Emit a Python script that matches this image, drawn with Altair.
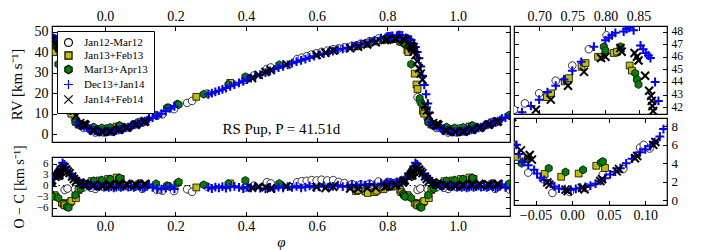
import altair as alt
import pandas as pd

SERIES = ["Jan12-Mar12", "Jan13+Feb13", "Mar13+Apr13", "Dec13+Jan14", "Jan14+Feb14"]

# ---- Jan12-Mar12 (open circles)
a_phase = [0.973, 0.997, 0.020, 0.042, 0.070, 0.093, 0.098, 0.106, 0.148, 0.163, 0.196, 0.233, 0.247,
           0.290, 0.397, 0.422, 0.459, 0.470, 0.545, 0.558, 0.572, 0.586, 0.600, 0.614, 0.630, 0.647,
           0.662, 0.6785, 0.700, 0.725, 0.750, 0.775, 0.8017, 0.886, 0.894, 0.915, 0.940, 0.960]
a_rv = [0.8, 0.9, 1.4, 2.8, 3.4, 5.7, 6.0, 5.6, 9.0, 9.7, 12.2, 15.2, 16.2,
        19.8, 26.5, 28.6, 31.8, 32.5, 36.6, 37.3, 38.0, 38.8, 39.4, 40.1, 40.7, 41.4,
        41.8, 42.3, 43.1, 44.1, 45.3, 46.6, 47.7, 18.0, 15.9, 7.6, 3.0, 2.3]
a_oc = [-0.9, -0.4, 0.1, 0.9, -0.3, 0.4, 0.6, -0.9, -1.2, -1.4, -1.5, -1.0, -1.7,
        -0.3, -0.5, 0.0, 0.9, 0.6, 0.9, 1.2, 1.3, 1.5, 1.4, 1.6, 1.4, 1.5,
        1.0, 0.7, 0.4, 0.3, 0.5, 1.1, 1.0, -1.2, -0.8, -1.0, -0.5, -0.6]

# ---- Jan13+Feb13 (yellow squares)
b_phase = [0.9624, 0.985, 0.009, 0.033, 0.045, 0.259, 0.355, 0.7116, 0.718, 0.7386, 0.745, 0.7641,
           0.770, 0.789, 0.8126, 0.8176, 0.8366, 0.840, 0.857, 0.860, 0.878, 0.883, 0.886, 0.901,
           0.905, 0.918, 0.925]
b_rv = [2.86, 2.55, 2.9, 3.74, 3.5, 18.2, 25.0, 42.8, 43.1, 44.05, 44.3, 45.2,
        45.5, 46.0, 46.3, 46.4, 45.3, 44.9, 40.9, 40.0, 29.5, 24.2, 22.0, 11.4,
        10.0, 6.0, 4.7]
b_oc = [1.2, 1.4, 1.8, 2.2, 1.8, -0.5, 0.6, -1.5, -1.2, -1.6, -2.0, -1.8,
        -1.4, -1.0, -0.3, 0.0, -1.2, -1.8, -2.6, -3.0, -4.7, -5.0, -5.4, -4.6,
        -4.2, -3.4, -1.2]

# ---- Mar13+Apr13 (green hexagons)
c_phase = [0.939, 0.968, 0.991, 0.015, 0.0395, 0.042, 0.145, 0.176, 0.181, 0.205, 0.209, 0.280,
           0.350, 0.398, 0.494, 0.7976, 0.800, 0.8227, 0.845, 0.8476, 0.850, 0.868, 0.892, 0.897,
           0.916, 0.931]
c_rv = [4.5, 3.47, 3.06, 3.3, 4.08, 4.2, 9.2, 12.9, 12.9, 14.7, 14.4, 19.5,
        24.2, 28.0, 33.8, 46.8, 46.5, 46.8, 44.7, 44.2, 43.8, 34.1, 17.4, 15.0,
        6.0, 4.0]
c_oc = [0.8, 1.3, 1.5, 1.8, 2.0, 2.1, 0.5, 0.0, -0.2, 0.6, 1.0, 0.2,
        0.5, 1.4, 0.6, 0.6, 0.4, 0.8, -2.2, -2.7, -3.0, -3.4, -5.8, -6.0,
        -2.6, -0.9]

# ---- Dec13+Jan14 (blue plus)
d_phase = [0.932, 0.940, 0.948, 0.952, 0.957, 0.962, 0.9705, 0.976, 0.982, 0.990, 0.998, 0.005,
           0.011, 0.018, 0.025, 0.032, 0.039, 0.045, 0.052, 0.059, 0.066, 0.074, 0.082, 0.087,
           0.093, 0.100, 0.107, 0.113, 0.120, 0.125, 0.135, 0.148, 0.160, 0.172, 0.185, 0.197,
           0.293, 0.303, 0.313, 0.323, 0.333, 0.343, 0.355, 0.367, 0.380, 0.392, 0.403, 0.414,
           0.426, 0.440, 0.455, 0.468, 0.480, 0.492, 0.505, 0.518, 0.530, 0.543, 0.556, 0.568,
           0.580, 0.593, 0.606, 0.620, 0.633, 0.646, 0.660, 0.674, 0.6875, 0.700, 0.7125, 0.725,
           0.7375, 0.750, 0.7635, 0.7826, 0.800, 0.805, 0.810, 0.815, 0.8276, 0.832, 0.836, 0.8426,
           0.853, 0.857, 0.861, 0.865, 0.868, 0.875, 0.880, 0.885, 0.890, 0.895, 0.900, 0.905,
           0.910, 0.915, 0.920, 0.924, 0.927]
d_rv = [4.15, 3.8, 3.3, 2.9, 2.45, 2.2, 1.8, 1.5, 1.27, 1.2, 1.16, 1.25,
        1.37, 1.45, 1.6, 1.8, 2.1, 2.4, 2.8, 3.1, 3.47, 4.0, 4.5, 4.8,
        5.2, 5.5, 5.86, 6.3, 6.9, 7.7, 8.1, 9.0, 10.0, 11.2, 12.6, 13.6,
        19.4, 20.0, 20.6, 21.2, 21.8, 22.5, 23.3, 24.1, 25.0, 25.8, 26.6, 27.3,
        28.2, 29.0, 30.0, 30.8, 31.6, 32.4, 33.1, 33.8, 34.6, 35.3, 36.0, 36.6,
        37.3, 38.0, 38.6, 39.3, 39.9, 40.5, 41.1, 41.6, 42.1, 42.6, 43.2, 43.7,
        44.2, 44.9, 45.6, 46.8, 47.3, 47.5, 47.7, 47.9, 48.0, 48.2, 48.3, 48.1,
        46.9, 46.6, 46.3, 46.1, 45.9, 44.0, 42.5, 40.0, 37.0, 33.0, 28.5, 24.0,
        19.5, 15.0, 10.5, 6.0, 5.0]
d_oc = [0.6, 0.3, 0.2, 0.0, -0.1, 0.1, 0.0, -0.2, -0.3, -0.1, -0.4, -0.2,
        -0.5, -0.3, -0.6, -0.4, -0.2, -0.5, -0.3, -0.1, -0.4, -0.2, -0.5, -0.3,
        0.0, -0.3, -0.6, -0.4, -0.2, 0.3, -0.5, -0.8, -1.0, -0.6, -0.3, -0.9,
        -0.5, -0.8, -0.4, -0.6, -0.3, -0.7, -0.4, -0.2, -0.5, -0.8, -0.4, -0.6,
        -0.3, -0.7, -0.9, -0.5, -0.8, -0.4, -0.6, -0.3, -0.5, -0.2, -0.6, -0.4,
        -0.1, -0.5, -0.3, 0.0, -0.4, -0.2, 0.1, -0.3, -0.1, 0.2, 0.0, 0.3,
        0.1, 0.4, 0.2, 0.6, 0.8, 0.5, 0.9, 0.6, 1.0, 0.7, 1.2, 0.9,
        2.0, 2.4, 2.8, 3.4, 4.0, 5.2, 6.2, 5.8, 5.0, 4.0, 3.2, 2.8,
        2.4, 2.0, 1.6, 1.2, 0.8]

# ---- Jan14+Feb14 (black x)
e_phase = [0.417, 0.436, 0.455, 0.470, 0.515, 0.600, 0.625, 0.647, 0.695, 0.7176, 0.7435, 0.7676,
           0.7935, 0.800, 0.8227, 0.8246, 0.844, 0.8476, 0.850, 0.860, 0.866, 0.869, 0.870, 0.871,
           0.872, 0.875, 0.880, 0.885, 0.890, 0.895, 0.900, 0.907, 0.912, 0.918, 0.930, 0.939,
           0.942, 0.945, 0.966, 0.969, 0.991, 0.994, 0.0136, 0.017, 0.0386, 0.041, 0.061, 0.064,
           0.086, 0.089, 0.111, 0.114]
e_rv = [27.3, 28.9, 30.3, 31.2, 34.0, 38.6, 39.7, 40.8, 41.8, 42.6, 43.7, 44.8,
        45.9, 46.0, 46.7, 46.4, 46.3, 46.0, 45.7, 44.5, 43.3, 42.9, 42.5, 42.1,
        41.7, 40.5, 38.5, 35.5, 32.0, 29.5, 26.5, 14.0, 11.5, 9.0, 5.4, 4.66,
        4.9, 4.4, 1.94, 1.7, 1.16, 1.0, 1.37, 1.2, 2.1, 2.3, 3.13, 3.4,
        4.56, 4.8, 6.0, 6.3]
e_oc = [-0.6, -0.3, -0.5, -0.8, -0.2, -0.4, -0.7, -0.3, -0.8, -0.9, -0.7, -0.6,
        -0.4, -0.2, 0.0, 0.3, 0.8, 1.2, 1.5, 2.4, 2.7, 3.0, 3.3, 2.8,
        3.6, 4.0, 4.6, 5.1, 4.4, 3.8, 3.4, 2.5, 1.8, 1.2, 0.8, 0.3,
        0.5, 0.2, -0.1, 0.2, 0.1, -0.2, 0.3, 0.0, 0.4, 0.1, 0.5, 0.2,
        0.4, 0.1, 0.3, 0.5]

ANNOT = "RS Pup, P = 41.51d"
ANNOT_PHASE, ANNOT_RV = 0.5, 2.3

# ---------------------------------------------------------------- data frame
frames = []
for name, ph, rv, oc in [(SERIES[0], a_phase, a_rv, a_oc), (SERIES[1], b_phase, b_rv, b_oc),
                         (SERIES[2], c_phase, c_rv, c_oc), (SERIES[3], d_phase, d_rv, d_oc),
                         (SERIES[4], e_phase, e_rv, e_oc)]:
    frames.append(pd.DataFrame({"series": name, "phase": ph, "rv": rv, "oc": oc}))
base = pd.concat(frames, ignore_index=True)
lo = base[base.phase <= 0.16].copy()
lo["phase"] = lo["phase"] + 1
hi = base[base.phase >= 0.84].copy()
hi["phase"] = hi["phase"] - 1
df = pd.concat([base, lo, hi], ignore_index=True)
df["k"] = df["series"].map({s: i for i, s in enumerate(SERIES)})
df = df.sort_values("k", kind="stable")
df_fill = df[df.k < 3]
df_line = df[df.k >= 3]

FONT = "Liberation Serif"
TK = 4.5

CIRCLE = "M0.95,0A0.95,0.95,0,1,1,-0.95,0A0.95,0.95,0,1,1,0.95,0Z"
SQUARE = "M-0.85,-0.85L0.85,-0.85L0.85,0.85L-0.85,0.85Z"
HEXA = "M0,-1L0.866,-0.5L0.866,0.5L0,1L-0.866,0.5L-0.866,-0.5Z"
PLUS = "M-1.1,0L1.1,0M0,-1.1L0,1.1"
XMARK = "M-1,-1L1,1M-1,1L1,-1"

shape_scale = alt.Scale(domain=SERIES, range=[CIRCLE, SQUARE, HEXA, PLUS, XMARK])
fill_scale = alt.Scale(domain=SERIES, range=["white", "#bfbf00", "#008000", "transparent", "transparent"])
stroke_scale = alt.Scale(domain=SERIES, range=["black", "black", "black", "#0000ff", "black"])


def axis(orient, vals, fmt, labels=True, lsize=14, tsize=15):
    horiz = orient in ("top", "bottom")
    return alt.Axis(orient=orient, values=vals, format=fmt, labels=labels, ticks=True,
                    tickSize=TK, offset=-TK, domain=False, grid=False, tickColor="black",
                    tickWidth=1, labelFont=FONT, labelFontSize=lsize, labelColor="black",
                    labelPadding=3 if horiz else 4, labelFlush=False, labelOverlap=False,
                    titleFont=FONT, titleFontSize=tsize, titleFontWeight="normal", titleColor="black",
                    titlePadding=1 if horiz else 10)


def panel(yf, xdom, ydom, w, h, xvals, yvals, xfmt, yfmt, xside, yside,
          xtitle=None, ytitle=None, legend=None, extra_front=(), extra_back=(),
          ylsize=14, ytsize=15):
    xsc = alt.Scale(domain=xdom, nice=False, zero=False)
    ysc = alt.Scale(domain=ydom, nice=False, zero=False)
    xopp = "bottom" if xside == "top" else "top"
    yopp = "left" if yside == "right" else "right"
    enc_style = dict(
        shape=alt.Shape("series:N", scale=shape_scale, legend=legend, title=None),
        fill=alt.Fill("series:N", scale=fill_scale, legend=legend, title=None),
        stroke=alt.Stroke("series:N", scale=stroke_scale, legend=legend, title=None),
    )
    xe = alt.X("phase:Q", scale=xsc, axis=axis(xside, xvals, xfmt), title=xtitle)
    ye = alt.Y(f"{yf}:Q", scale=ysc, axis=axis(yside, yvals, yfmt, lsize=ylsize, tsize=ytsize),
               title=ytitle)
    l1 = alt.Chart(df_fill).mark_point(filled=True, opacity=1, size=64, strokeWidth=0.8, clip=True).encode(
        x=xe, y=ye, **enc_style)
    l2 = alt.Chart(df_line).mark_point(filled=True, opacity=1, size=64, strokeWidth=2, clip=True).encode(
        x=alt.X("phase:Q", scale=xsc, axis=None),
        y=alt.Y(f"{yf}:Q", scale=ysc, axis=None), **enc_style)
    dummy = alt.Chart(df.head(1)).mark_point(opacity=0, clip=True).encode(
        x=alt.X("phase:Q", scale=xsc, axis=axis(xopp, xvals, xfmt, labels=False), title=None),
        y=alt.Y(f"{yf}:Q", scale=ysc, axis=axis(yopp, yvals, yfmt, labels=False), title=None))
    layers = ([f(xsc, ysc) for f in extra_back] + [l1, l2] +
              [f(xsc, ysc) for f in extra_front] + [dummy])
    return alt.layer(*layers).resolve_axis(x="independent", y="independent").properties(width=w, height=h)


def annot(xsc, ysc):
    d = pd.DataFrame({"x": [ANNOT_PHASE], "y": [ANNOT_RV], "t": [ANNOT]})
    return alt.Chart(d).mark_text(font=FONT, fontSize=15, align="center", baseline="middle",
                                  color="black").encode(
        x=alt.X("x:Q", scale=xsc, axis=None), y=alt.Y("y:Q", scale=ysc, axis=None), text="t:N")


def zero_rule(xsc, ysc):
    d = pd.DataFrame({"y": [0.0]})
    return alt.Chart(d).mark_rule(color="black", strokeWidth=1, strokeDash=[1.5, 3]).encode(
        y=alt.Y("y:Q", scale=ysc, axis=None))


legend = alt.Legend(orient="top-left", offset=5, padding=6, strokeColor="black", fillColor="white",
                    labelFont=FONT, labelFontSize=11, labelColor="black", symbolSize=70,
                    symbolStrokeWidth=1.2, rowPadding=0, labelOffset=10, title=None)

MAIN_X = [-0.15, 1.148]
main_xt = [0.0, 0.2, 0.4, 0.6, 0.8, 1.0]

top_left = panel("rv", MAIN_X, [-3.8, 52.7], 458, 116, main_xt, [0, 10, 20, 30, 40, 50], ".1f", "d",
                 "top", "left", ytitle="RV [km s⁻¹]", legend=legend, extra_front=(annot,))
bot_left = panel("oc", MAIN_X, [-8.3, 7.8], 458, 59, main_xt, [-6, -3, 0, 3, 6], ".1f", "d",
                 "bottom", "left", xtitle="φ", ytitle="O − C [km s⁻¹]", extra_back=(zero_rule,),
                 ylsize=11, ytsize=14)
top_right = panel("rv", [0.662, 0.893], [41.46, 48.44], 153, 88, [0.70, 0.75, 0.80, 0.85],
                  [42, 43, 44, 45, 46, 47, 48], ".2f", "d", "top", "right", ylsize=11.5)
bot_right = panel("rv", [-0.0795, 0.1298], [-0.5, 8.9], 153, 87, [-0.05, 0.0, 0.05, 0.10],
                  [0, 2, 4, 6, 8], ".2f", "d", "bottom", "right", ylsize=13)

ind = dict(shape="independent", fill="independent", stroke="independent")
left = alt.vconcat(top_left, bot_left, spacing=0).resolve_scale(**ind)
right = alt.vconcat(top_right, bot_right, spacing=0).resolve_scale(**ind)
chart = alt.hconcat(left, right, spacing=0).resolve_scale(**ind).properties(
    padding={"left": 0, "top": 0, "right": 0, "bottom": 0}, background="white"
).configure_view(stroke="black", strokeWidth=1.2).configure_axisBottom(
    titleFontStyle="italic")

chart.save("out.html", embed_options={"renderer": "svg", "actions": False})
